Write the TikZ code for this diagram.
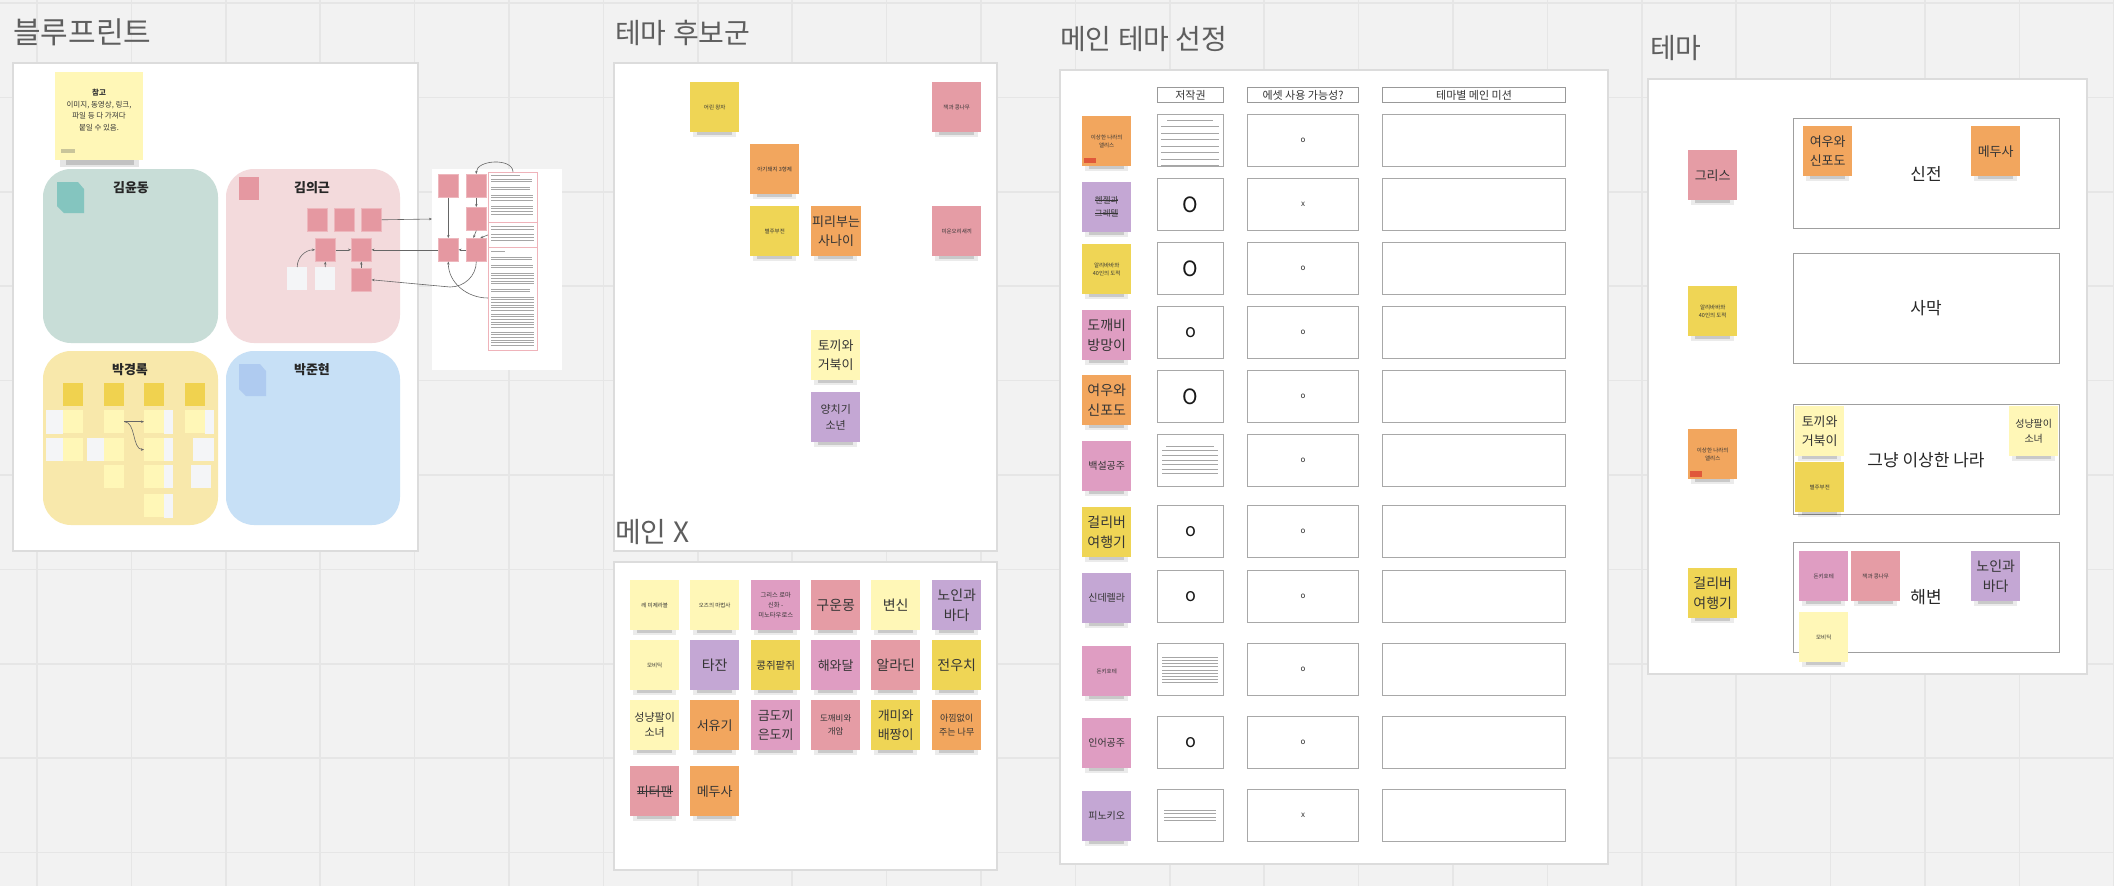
\documentclass[tikz,border=0pt]{standalone}
\usepackage{fontspec}
\setmainfont{Noto Sans CJK KR}
\usetikzlibrary{arrows.meta}
\definecolor{bg}{HTML}{F2F2F2}
\definecolor{gridc}{HTML}{E6E6E6}
\definecolor{panelb}{HTML}{DCDCDC}
\definecolor{titlec}{HTML}{5E5E5E}
\definecolor{sOr}{HTML}{F2A65E}
\definecolor{sYe}{HTML}{EFD555}
\definecolor{sLy}{HTML}{FFF7B7}
\definecolor{sPk}{HTML}{E59CA5}
\definecolor{sMg}{HTML}{DF9DC2}
\definecolor{sPu}{HTML}{C4A7D4}
\definecolor{txt}{HTML}{353535}
\definecolor{cellb}{HTML}{A8A8A8}
\definecolor{bTeal}{HTML}{C8DDD7}
\definecolor{bPink}{HTML}{F3DADC}
\definecolor{bYel}{HTML}{F8E8AB}
\definecolor{bBlue}{HTML}{C7E0F6}
\definecolor{kPink}{HTML}{E598A1}
\definecolor{wsq}{HTML}{F4F5F7}
\definecolor{dYel}{HTML}{F0D24F}
\definecolor{redtag}{HTML}{E0583A}
\definecolor{iTeal}{HTML}{84C5BF}
\definecolor{iBlue}{HTML}{AFCBF0}
\definecolor{tbPink}{HTML}{EFB3BA}
\definecolor{notebar}{HTML}{C9C59A}
\newcommand\fsL{\fontsize{14}{20}\selectfont}
\newcommand\fsK{\fontsize{13}{19}\selectfont}
\newcommand\fsM{\fontsize{10}{15}\selectfont}
\newcommand\fsN{\fontsize{8.5}{13}\selectfont}
\newcommand\fsS{\fontsize{5.5}{8.5}\selectfont}
\newcommand\fsT{\fontsize{28}{34}\selectfont}
\newcommand\sot[1]{\setbox0\hbox{#1}\rlap{\rule[0.33em]{\wd0}{0.07em}}\box0}
% sticky: [width]{name}{x}{y}{colour}{font}{text}
\newcommand\stk[7][49]{%
  \fill[black,opacity=0.08] (#3+3,#4+46) rectangle (#3+#1-3,#4+55);
  \fill[black,opacity=0.14] (#3+7,#4+48) rectangle (#3+#1-7,#4+53);
  \node[sticky,minimum width=#1pt,fill=#5,font=#6] (#2) at (#3,#4) {#7};}
% bars: x1, x2, ytop, last index, spacing, width
\newcommand\bars[6]{%
  \foreach \k in {0,...,#4} {\draw[gray!70,line width=#6] (#1,{#3+\k*#5}) -- (#2,{#3+\k*#5});}}
\begin{document}
\begin{tikzpicture}[x=1pt,y=-1pt,
  sticky/.style={anchor=north west,minimum height=50pt,inner sep=1pt,align=center,text=txt},
  panel/.style={fill=white,draw=panelb,line width=2pt},
  title/.style={anchor=west,inner sep=0pt,text=titlec,font=\fsT},
  bsq/.style={anchor=north west,minimum width=20pt,minimum height=23pt,inner sep=0pt,fill=kPink,draw=kPink!70!white,line width=0.6pt},
  wbox/.style={anchor=north west,minimum width=20pt,minimum height=23pt,inner sep=0pt,fill=wsq},
  ysq/.style={anchor=north west,minimum width=20pt,minimum height=23pt,inner sep=0pt,fill=sLy},
  cell/.style={anchor=north west,minimum height=52pt,inner sep=0pt,draw=cellb,line width=1.3pt,fill=white},
  hdr/.style={anchor=north west,minimum height=15pt,inner sep=0pt,draw=gray!80,line width=1pt,font=\fontsize{11}{12}\selectfont,text=txt},
  tbox/.style={anchor=north west,minimum width=266pt,minimum height=110pt,inner sep=0pt,draw=gray!75,line width=1.3pt,fill=white},
  tlab/.style={font=\fontsize{17}{20}\selectfont,text=black!85},
  con/.style={draw=gray!80!black,line width=0.6pt,-{Stealth[length=3pt,width=2.5pt]}},
  cbig/.style={font=\fontsize{21}{22}\selectfont,text=black!90},
  cmid/.style={font=\fontsize{18}{20}\selectfont,text=black!90},
  csml/.style={font=\fontsize{8}{9}\selectfont,text=black!80}
]
\useasboundingbox (0,0) rectangle (2114,886);
\fill[bg] (0,0) rectangle (2114,886);
\foreach \i in {0,...,22} {\draw[gridc,line width=1.5pt] ({37+\i*94.4},0) -- ({37+\i*94.4},886);}
\foreach \j in {0,...,9} {\draw[gridc,line width=1.5pt] (0,{3+\j*94.4}) -- (2114,{3+\j*94.4});}

% ---------------- titles
\node[title,font=\fontsize{30}{34}\selectfont] (t1) at (13,32) {블루프린트};
\node[title] (t2) at (615,33) {테마 후보군};
\node[title] (t3) at (1060,39) {메인 테마 선정};
\node[title] (t4) at (1650,48) {테마};

% ---------------- panels
\draw[panel] (13,63) rectangle (418,551);
\draw[panel] (614,63) rectangle (997,551);
\draw[panel] (614,562) rectangle (997,870);
\draw[panel] (1060,70) rectangle (1608,864);
\draw[panel] (1648,79) rectangle (2087,674);
\node[title] (t5) at (615,532) {메인 X};

% ---------------- blueprint
\fill[black,opacity=0.10] (60,156) rectangle (139,167);
\fill[black,opacity=0.15] (66,158) rectangle (134,165);
\node[anchor=north west,minimum width=88pt,minimum height=88pt,fill=sLy,inner sep=0pt] (note) at (55,72) {};
\node[align=center,font=\fontsize{7.5}{11.7}\selectfont,text=txt] (notetxt) at (99,110) {\textbf{참고}\\이미지, 동영상, 링크,\\파일 등 다 가져다\\붙일 수 있음.};
\fill[notebar] (61,149) rectangle (75,153);

\fill[bTeal,rounded corners=28pt] (43,169) rectangle (218,343);
\fill[bPink,rounded corners=28pt] (226,169) rectangle (400,343);
\fill[bYel,rounded corners=28pt] (43,351) rectangle (218,525);
\fill[bBlue,rounded corners=28pt] (226,351) rectangle (400,525);
\node[font=\fontsize{13}{15}\selectfont\bfseries,text=black!85] (n1) at (131,188) {김윤동};
\node[font=\fontsize{13}{15}\selectfont\bfseries,text=black!85] (n2) at (312,188) {김의근};
\node[font=\fontsize{13}{15}\selectfont\bfseries,text=black!85] (n3) at (130,370) {박경록};
\node[font=\fontsize{13}{15}\selectfont\bfseries,text=black!85] (n4) at (312,370) {박준현};
\fill[iTeal] (57,182) -- (78,182) -- (84,189) -- (84,213) -- (64,213) -- (57,206) -- cycle;
\fill[iBlue] (239,364) -- (260,364) -- (266,371) -- (266,396) -- (246,396) -- (239,389) -- cycle;
\fill[kPink] (239,177) rectangle (259,200);

% kim euigeun squares
\node[bsq] (k11) at (307,208) {};
\node[bsq] (k12) at (334,208) {};
\node[bsq] (k13) at (361,208) {};
\node[bsq] (k21) at (315,238) {};
\node[bsq] (k22) at (351,238) {};
\node[wbox] (kw1) at (287,267) {};
\node[wbox] (kw2) at (315,267) {};
\node[bsq] (k31) at (351,268) {};

% park kyungrok squares
\foreach \x in {63,104,144,185} {\node[anchor=north west,minimum width=20pt,minimum height=23pt,inner sep=0pt,fill=dYel] at (\x,383) {};}
\fill[wsq] (46,410) rectangle (63,434);
\fill[wsq] (164,410) rectangle (173,434);
\fill[wsq] (205,410) rectangle (214,434);
\node[ysq] (ya1) at (63,410) {};
\node[ysq] (ya2) at (104,410) {};
\node[ysq] (ya3) at (144,410) {};
\node[ysq] (ya4) at (185,410) {};
\fill[wsq] (46,438) rectangle (63,461);
\fill[wsq] (87,438) rectangle (104,461);
\fill[wsq] (164,438) rectangle (173,461);
\fill[wsq] (193,438) rectangle (214,461);
\node[ysq] (yb1) at (63,438) {};
\node[ysq] (yb2) at (104,438) {};
\node[ysq] (yb3) at (144,438) {};
\fill[wsq] (164,465) rectangle (173,488);
\fill[wsq] (191,465) rectangle (211,488);
\node[ysq] (yc2) at (104,465) {};
\node[ysq] (yc3) at (144,465) {};
\fill[wsq] (164,494) rectangle (173,518);
\node[ysq] (yd3) at (144,494) {};
\draw[con] (ya2.east) to[out=0,in=180] (ya3.west);
\draw[con] (ya2.east) .. controls (136,422) and (132,449) .. (yb3.west);

% right document
\fill[white] (432,169) rectangle (562,370);
\node[bsq] (d1) at (438,174) {};
\node[bsq] (d2) at (466,174) {};
\node[bsq] (d3) at (466,207) {};
\node[bsq] (d4) at (438,238) {};
\node[bsq] (d5) at (466,238) {};
\node[anchor=north west,minimum width=49pt,minimum height=50pt,inner sep=0pt,draw=tbPink,line width=0.8pt] (tb1) at (488,172) {};
\node[anchor=north west,minimum width=49pt,minimum height=25pt,inner sep=0pt,draw=tbPink,line width=0.8pt] (tb2) at (488,222) {};
\node[anchor=north west,minimum width=49pt,minimum height=103pt,inner sep=0pt,draw=tbPink,line width=0.8pt] (tb3) at (488,247) {};
\bars{491}{520}{175}{0}{2.6}{0.4}
\bars{491}{532}{179}{1}{2.6}{0.4}
\bars{491}{530}{187}{1}{2.6}{0.4}
\bars{491}{533}{195}{2}{2.6}{0.4}
\bars{491}{533}{206}{3}{2.6}{0.4}
\bars{491}{534}{226}{1}{3}{0.45}
\bars{491}{534}{234}{2}{3}{0.55}
\bars{491}{505}{251}{0}{3}{0.4}
\bars{491}{532}{257}{1}{2.6}{0.4}
\bars{491}{533}{265}{1}{2.6}{0.4}
\bars{491}{534}{273}{4}{2.6}{0.4}
\bars{491}{530}{289}{1}{2.6}{0.4}
\bars{491}{534}{297}{5}{2.6}{0.4}
\bars{491}{534}{314}{5}{2.6}{0.55}
\bars{491}{534}{332}{5}{2.6}{0.45}

% blueprint connectors
\draw[con] (k13.east) -- (432,219);
\draw[con] (k21.east) -- (k22.west);
\draw[con] (kw1.north) to[out=90,in=180] (k21.west);
\draw[con] (kw2.north) -- (k21.south);
\draw[con] (k31.north) -- (k22.south);
\draw[con] (d4.west) -- (k22.east);
\draw[con] (d5.south) to[out=-90,in=0] (450,287) -- (k31.east);
\draw[con] (513,172) to[out=90,in=90] (d2.north);
\draw[con] (d1.south) -- (d4.north);
\draw[con] (d2.south) -- (d3.north);
\draw[con] (d3.south) -- ([xshift=-3pt]d5.north);
\draw[con] (tb2.west) -- ([xshift=4pt]d5.north);
\draw[con] (d5.west) -- (d4.east);
\draw[con] (488,298) to[out=180,in=-90] (d4.south);

% ---------------- theme candidates
\stk{c1}{690}{82}{sYe}{\fsS}{어린 왕자}
\stk{c2}{932}{82}{sPk}{\fsS}{잭과 콩나무}
\stk{c3}{750}{144}{sOr}{\fsS}{아기돼지 3형제}
\stk{c4}{750}{206}{sYe}{\fsS}{별주부전}
\stk{c5}{811}{206}{sOr}{\fsK}{피리부는\\사나이}
\stk{c6}{932}{206}{sPk}{\fsS}{미운오리새끼}
\stk{c7}{811}{330}{sLy}{\fsK}{토끼와\\거북이}
\stk{c8}{811}{392}{sPu}{\fontsize{11}{16}\selectfont}{양치기\\소년}

% ---------------- main X
\stk{x11}{630}{580}{sLy}{\fsS}{레 미제라블}
\stk{x12}{690}{580}{sLy}{\fsS}{오즈의 마법사}
\stk{x13}{751}{580}{sMg}{\fontsize{6.3}{10}\selectfont}{그리스 로마\\신화 -\\미노타우로스}
\stk{x14}{811}{580}{sPk}{\fsL}{구운몽}
\stk{x15}{871}{580}{sLy}{\fsL}{변신}
\stk{x16}{932}{580}{sPu}{\fsL}{노인과\\바다}
\stk{x21}{630}{640}{sLy}{\fsS}{모비딕}
\stk{x22}{690}{640}{sPu}{\fsL}{타잔}
\stk{x23}{751}{640}{sYe}{\fontsize{10.5}{14}\selectfont}{콩쥐팥쥐}
\stk{x24}{811}{640}{sMg}{\fontsize{13}{18}\selectfont}{해와달}
\stk{x25}{871}{640}{sPk}{\fsL}{알라딘}
\stk{x26}{932}{640}{sYe}{\fsL}{전우치}
\stk{x31}{630}{700}{sLy}{\fontsize{11}{15}\selectfont}{성냥팔이\\소녀}
\stk{x32}{690}{700}{sOr}{\fsK}{서유기}
\stk{x33}{751}{700}{sMg}{\fsK}{금도끼\\은도끼}
\stk{x34}{811}{700}{sPk}{\fsN}{도깨비와\\개암}
\stk{x35}{871}{700}{sYe}{\fsK}{개미와\\배짱이}
\stk{x36}{932}{700}{sOr}{\fontsize{9}{14}\selectfont}{아낌없이\\주는 나무}
\stk{x41}{630}{766}{sPk}{\fsK}{\sot{피터팬}}
\stk{x42}{690}{766}{sOr}{\fsK}{메두사}

% ---------------- main theme selection
\node[hdr,minimum width=66pt] (h1) at (1157,87) {저작권};
\node[hdr,minimum width=111pt] (h2) at (1247,87) {에셋 사용 가능성?};
\node[hdr,minimum width=183pt] (h3) at (1382,87) {테마별 메인 미션};
\foreach \t [count=\i] in {114,178,242,306,370,434,505,570,643,716,789} {
  \node[cell,minimum width=66pt] (a\i) at (1157,\t) {};
  \node[cell,minimum width=111pt] (b\i) at (1247,\t) {};
  \node[cell,minimum width=183pt] (m\i) at (1382,\t) {};
}
% copyright column contents
\bars{1167}{1213}{120}{0}{6.5}{0.55}
\bars{1161}{1219}{126.5}{6}{6.5}{0.55}
\node[cbig] at (a2) {O};
\node[cbig] at (a3) {O};
\node[cmid] at (a4) {o};
\node[cbig] at (a5) {O};
\bars{1166}{1214}{446}{0}{4.6}{0.4}
\bars{1162}{1218}{450.6}{5}{4.6}{0.4}
\node[cmid] at (a7) {o};
\node[cmid] at (a8) {o};
\bars{1162}{1218}{657}{8}{3.2}{0.4}
\node[cmid] at (a10) {o};
\bars{1164}{1216}{810}{3}{3.5}{0.4}
% asset column
\node[csml] at (b1) {o};
\node[csml] at (b2) {x};
\foreach \i in {3,...,10} {\node[csml] at (b\i) {o};}
\node[csml] at (b11) {x};
% row stickies
\stk{r1}{1082}{116}{sOr}{\fsS}{이상한 나라의\\앨리스}
\fill[redtag] (1084,158) rectangle (1096,163);
\stk{r2}{1082}{182}{sPu}{\fsN}{\sot{헨젤과}\\\sot{그레텔}}
\stk{r3}{1082}{244}{sYe}{\fsS}{알리바바와\\40인의 도적}
\stk{r4}{1082}{310}{sMg}{\fsL}{도깨비\\방망이}
\stk{r5}{1082}{375}{sOr}{\fsL}{여우와\\신포도}
\stk{r6}{1082}{441}{sMg}{\fsM}{백설공주}
\stk{r7}{1082}{507}{sYe}{\fsL}{걸리버\\여행기}
\stk{r8}{1082}{573}{sPu}{\fsM}{신데렐라}
\stk{r9}{1082}{646}{sMg}{\fsS}{돈키호테}
\stk{r10}{1082}{718}{sMg}{\fsM}{인어공주}
\stk{r11}{1082}{791}{sPu}{\fsM}{피노키오}

% ---------------- theme panel
\node[tbox] (tb_sj) at (1793,118) {};
\node[tbox] (tb_sm) at (1793,253) {};
\node[tbox] (tb_gn) at (1793,404) {};
\node[tbox] (tb_hb) at (1793,542) {};
\node[tlab] at (1926,174) {신전};
\node[tlab] at (1926,308) {사막};
\node[tlab] at (1926,460) {그냥 이상한 나라};
\node[tlab] at (1926,597) {해변};
\stk{g1}{1688}{150}{sPk}{\fsK}{그리스}
\stk{g2}{1688}{286}{sYe}{\fsS}{알리바바와\\40인의 도적}
\stk{g3}{1688}{429}{sOr}{\fsS}{이상한 나라의\\앨리스}
\fill[redtag] (1690,471) rectangle (1702,477);
\stk{g4}{1688}{568}{sYe}{\fsL}{걸리버\\여행기}
\stk{s1}{1803}{126}{sOr}{\fsK}{여우와\\신포도}
\stk{s2}{1971}{126}{sOr}{\fsK}{메두사}
\stk{s3}{1795}{406}{sLy}{\fsK}{토끼와\\거북이}
\stk{s4}{1795}{462}{sYe}{\fsS}{별주부전}
\stk{s5}{2009}{406}{sLy}{\fontsize{10}{15}\selectfont}{성냥팔이\\소녀}
\stk{s6}{1799}{551}{sMg}{\fsS}{돈키호테}
\stk{s7}{1851}{551}{sPk}{\fsS}{잭과 콩나무}
\stk{s8}{1971}{551}{sPu}{\fsL}{노인과\\바다}
\stk{s9}{1799}{612}{sLy}{\fsS}{모비딕}
\end{tikzpicture}
\end{document}
